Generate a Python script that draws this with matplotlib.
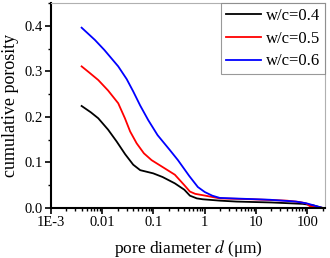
import matplotlib
matplotlib.use("Agg")
import matplotlib.pyplot as plt
from matplotlib.ticker import FixedLocator, LogLocator, MultipleLocator, NullFormatter

plt.rcParams["font.family"] = ["Liberation Serif", "DejaVu Serif"]
plt.rcParams["mathtext.fontset"] = "stix"

# pore diameter (um) and cumulative porosity
d_04 = [0.00396, 0.0060, 0.00836, 0.013, 0.0191, 0.028, 0.0402, 0.055, 0.0987, 0.15, 0.261,
        0.4, 0.513, 0.7, 0.918, 2.0, 4.17, 20, 81.7, 128, 200]
p_04 = [0.224, 0.210, 0.197, 0.172, 0.146, 0.118, 0.095, 0.083, 0.076, 0.068, 0.054,
        0.040, 0.027, 0.021, 0.019, 0.016, 0.014, 0.012, 0.009, 0.006, 0.0]

d_05 = [0.00396, 0.0055, 0.00836, 0.013, 0.0205, 0.0277, 0.035, 0.0469, 0.065, 0.0918, 0.15,
        0.261, 0.4, 0.513, 0.65, 0.918, 1.97, 8.66, 40, 71.4, 95, 112, 200]
p_05 = [0.311, 0.298, 0.281, 0.258, 0.230, 0.197, 0.168, 0.142, 0.120, 0.105, 0.090,
        0.073, 0.050, 0.036, 0.031, 0.028, 0.021, 0.019, 0.016, 0.013, 0.010, 0.004, 0.0]

d_06 = [0.00396, 0.0072, 0.011, 0.0205, 0.03, 0.0402, 0.055, 0.0789, 0.12, 0.209, 0.3,
        0.5, 0.733, 1.0, 1.4, 1.97, 18.6, 60, 97.8, 200]
p_06 = [0.396, 0.369, 0.347, 0.311, 0.283, 0.256, 0.225, 0.193, 0.160, 0.127, 0.105,
        0.070, 0.046, 0.035, 0.027, 0.022, 0.018, 0.014, 0.010, 0.0]

labels = ["w/c=0.4", "w/c=0.5", "w/c=0.6"]
colors = ["black", "red", "blue"]

x_ticks = [1e-3, 1e-2, 1e-1, 1, 10, 100]
x_tick_labels = ["1E-3", "0.01", "0.1", "1", "10", "100"]

fig = plt.figure(figsize=(3.3, 2.58), dpi=100)
ax = fig.add_axes([0.1545, 0.194, 0.831, 0.794])

for d, p, lab, c in zip([d_04, d_05, d_06], [p_04, p_05, p_06], labels, colors):
    ax.plot(d, p, color=c, lw=1.3, label=lab)

ax.set_xscale("log")
ax.set_xlim(1e-3, 224)
ax.set_ylim(0, 0.45)
ax.xaxis.set_major_locator(FixedLocator(x_ticks))
ax.set_xticklabels(x_tick_labels)
ax.xaxis.set_minor_locator(LogLocator(base=10, subs=range(2, 10)))
ax.xaxis.set_minor_formatter(NullFormatter())
ax.yaxis.set_major_locator(MultipleLocator(0.1))
ax.yaxis.set_minor_locator(MultipleLocator(0.05))
ax.yaxis.set_major_formatter(plt.FormatStrFormatter("%.1f"))

ax.tick_params(which="major", direction="out", length=4, width=1.2, labelsize=10.5, pad=2)
ax.tick_params(which="minor", direction="out", length=2.5, width=1.0)
ax.tick_params(top=False, right=False)

for s in ["left", "bottom"]:
    ax.spines[s].set_linewidth(1.5)
    ax.spines[s].set_color("black")
for s in ["top", "right"]:
    ax.spines[s].set_linewidth(0.8)
    ax.spines[s].set_color("#b0b0b0")

ax.set_xlabel("pore diameter $d$ (μm)", fontsize=12.5, labelpad=6)
ax.set_ylabel("cumulative porosity", fontsize=13, labelpad=4)

leg = ax.legend(loc="upper right", fontsize=12, frameon=True, fancybox=False,
                handlelength=2.1, handletextpad=0.3, borderpad=0.3, labelspacing=0.4,
                borderaxespad=0.0)
leg.get_frame().set_edgecolor("#808080")
leg.get_frame().set_linewidth(0.8)

fig.savefig("out.png", dpi=100)
